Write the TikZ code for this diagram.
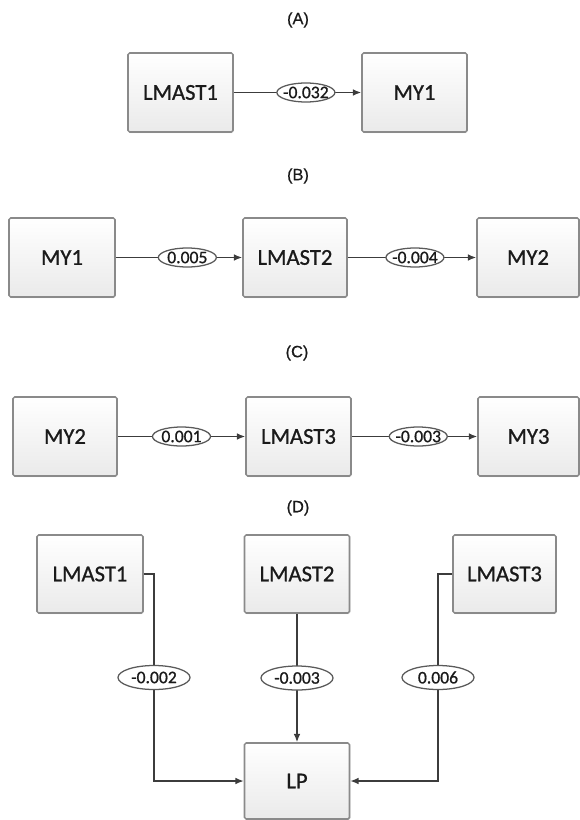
\documentclass[tikz,border=0pt]{standalone}
\usepackage{fontspec}
\setmainfont{Carlito}
% regular Carlito, slightly thickened when \bfseries is asked for
\newfontfamily\boxfont{Carlito}[BoldFont={Carlito},BoldFeatures={FakeBold=0.9}]
\newfontfamily\titlefont{Liberation Sans}[BoldFont={Liberation Sans},BoldFeatures={FakeBold=0.6}]
\usetikzlibrary{arrows.meta,shadows,shapes.geometric}

\definecolor{boxline}{HTML}{8A8A8A}
\definecolor{boxbot}{HTML}{EAEAEA}
\definecolor{wire}{HTML}{3C3C3C}
\definecolor{ink}{HTML}{1A1A1A}
\definecolor{ovalline}{HTML}{5A5A5A}

\begin{document}
\begin{tikzpicture}[x=0.75pt,y=-0.75pt,
  blk/.style={draw=boxline, line width=1.15pt, rounded corners=1.2pt,
    top color=white, bottom color=boxbot, text=ink, inner sep=0pt,
    font=\boxfont\bfseries\fontsize{17}{20}\selectfont,
    drop shadow={shadow xshift=0.7pt, shadow yshift=-0.8pt, opacity=0.22}},
  wh/.style 2 args={minimum width=#1*0.75pt, minimum height=#2*0.75pt},
  oval/.style={ellipse, draw=ovalline, line width=0.95pt, fill=white, inner sep=0pt,
    text=ink, font=\boxfont\bfseries\fontsize{13.2}{15}\selectfont,
    minimum width=58*0.75pt, minimum height=19*0.75pt},
  ovalD/.style={oval, minimum width=72*0.75pt, minimum height=24*0.75pt},
  conn/.style={draw=wire, line width=1.05pt, -{Latex[length=6.2pt,width=5pt]}},
  ttl/.style={text=ink, font=\titlefont\bfseries\fontsize{12.3}{14}\selectfont}
]
\useasboundingbox (0,0) rectangle (580,820);

% ---- (A)
\node[ttl] (tA) at (298,20) {(A)};
\node[blk,wh={105}{79}] (a1) at (180.5,92.5) {LMAST1};
\node[blk,wh={105}{79}] (a2) at (414.5,92.5) {MY1};
\draw[conn] (a1) -- node[oval,pos=0.566]{\makebox[0pt]{-0.032}} (a2);

% ---- (B)
\node[ttl] (tB) at (298,176) {(B)};
\node[blk,wh={106}{79}] (b1) at (62,257.5) {MY1};
\node[blk,wh={104}{79}] (b2) at (295,257.5) {LMAST2};
\node[blk,wh={102}{79}] (b3) at (528,257.5) {MY2};
\draw[conn] (b1) -- node[oval,pos=0.566]{\makebox[0pt]{0.005}} (b2);
\draw[conn] (b2) -- node[oval,pos=0.523]{\makebox[0pt]{-0.004}} (b3);

% ---- (C)
\node[ttl] (tC) at (297,353) {(C)};
\node[blk,wh={104}{79}] (c1) at (65,436.5) {MY2};
\node[blk,wh={105}{79}] (c2) at (298.5,436.5) {LMAST3};
\node[blk,wh={101}{79}] (c3) at (528.5,436.5) {MY3};
\draw[conn] (c1) -- node[oval,pos=0.5]{\makebox[0pt]{0.001}} (c2);
\draw[conn] (c2) -- node[oval,pos=0.53]{\makebox[0pt]{-0.003}} (c3);

% ---- (D)
\node[ttl] (tD) at (298,508) {(D)};
\node[blk,wh={106}{78}] (d1) at (90,574) {LMAST1};
\node[blk,wh={105}{78}] (d2) at (297,574) {LMAST2};
\node[blk,wh={103}{78}] (d3) at (504.5,574) {LMAST3};
\node[blk,wh={105}{76}] (lp) at (297,781) {LP};

\coordinate (k1) at (154,574);
\coordinate (k3) at (438,574);
\draw[conn] (d1.east) -- (k1) |- node[ovalD,pos=0.25]{\makebox[0pt]{-0.002}} (lp.west);
\draw[conn] (d2) -- node[ovalD,pos=0.5]{\makebox[0pt]{-0.003}} (lp);
\draw[conn] (d3.west) -- (k3) |- node[ovalD,pos=0.25]{\makebox[0pt]{0.006}} (lp.east);
\end{tikzpicture}
\end{document}
